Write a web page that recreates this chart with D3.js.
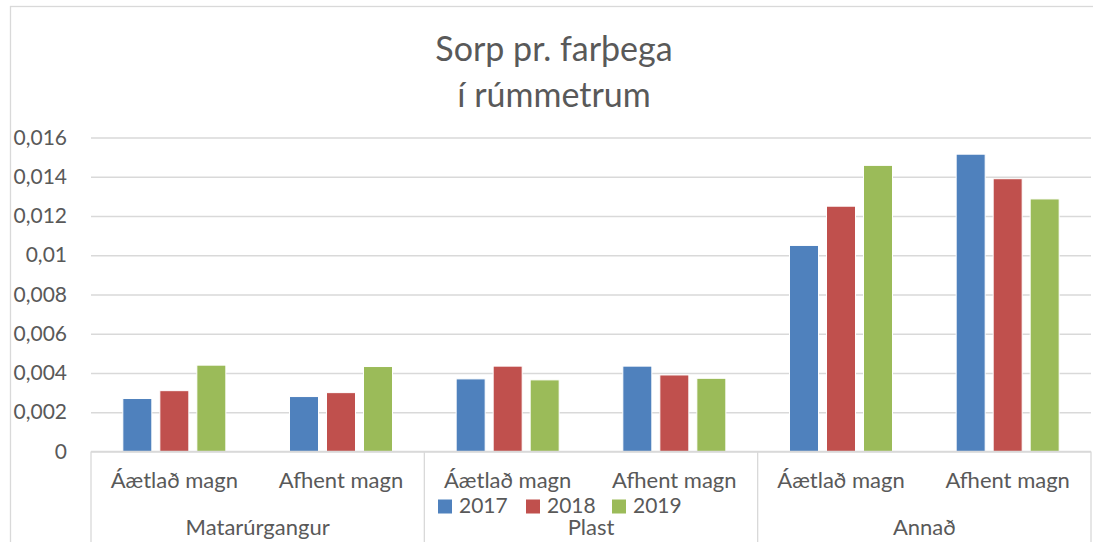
<!DOCTYPE html>
<html>
<head>
<meta charset="utf-8">
<script src="https://cdn.jsdelivr.net/npm/d3@7"></script>
<style>
  body { margin: 0; background: #fff; }
  svg { font-family: Lato, "Open Sans", sans-serif; }
</style>
</head>
<body>
<script>
var groups = ["Matarúrgangur", "Plast", "Annað"];
var subcats = ["Áætlað magn", "Afhent magn"];
var years = ["2017", "2018", "2019"];
// one value per (group, subcategory) in order
var v2017 = [0.0027, 0.0028, 0.0037, 0.00435, 0.0105, 0.01515];
var v2018 = [0.0031, 0.0030, 0.00435, 0.0039, 0.0125, 0.0139];
var v2019 = [0.0044, 0.00433, 0.00365, 0.00373, 0.01458, 0.01287];
var yTicks = [0, 0.002, 0.004, 0.006, 0.008, 0.01, 0.012, 0.014, 0.016];
var colors = ["#4f81bd", "#c0504d", "#9bbb59"];

var w = 1093, h = 542;
var plotL = 91, plotR = 1091, plotT = 137.5, plotB = 451.5;
var textCol = "#595959", lineCol = "#d9d9d9";

var keys = [];
groups.forEach(function(g){ subcats.forEach(function(s){ keys.push(g + "|" + s); }); });
var series = [v2017, v2018, v2019];
var rows = keys.map(function(k, i){
  return {key: k, vals: years.map(function(y, j){ return {year: y, v: series[j][i], c: colors[j]}; })};
});

var fmt = d3.formatLocale({decimal: ",", thousands: ".", grouping: [3], currency: ["", ""]}).format(".3~f");

var svg = d3.select("body").append("svg").attr("width", w).attr("height", h);

// chart border (right/bottom fall outside)
svg.append("rect").attr("x", 10.5).attr("y", 6.5).attr("width", 1100).attr("height", 560)
  .attr("fill", "none").attr("stroke", lineCol).attr("stroke-width", 1.3);

// title
var title = svg.append("text").attr("text-anchor", "middle").attr("fill", textCol)
  .attr("font-size", 34);
title.append("tspan").attr("x", 554).attr("y", 61).text("Sorp pr. farþega");
title.append("tspan").attr("x", 554).attr("y", 107).text("í rúmmetrum");

var y = d3.scaleLinear().domain([0, 0.016]).range([plotB, plotT]);
var x0 = d3.scaleBand().domain(keys).range([plotL, plotR]);
var xg = d3.scaleBand().domain(groups).range([plotL, plotR]);
var x1 = d3.scaleBand().domain(years).range([0, x0.bandwidth()]).paddingInner(0.216).paddingOuter(0.86);

// y axis with gridlines
var yAxis = svg.append("g").attr("transform", "translate(" + plotL + ",0)")
  .call(d3.axisLeft(y).tickValues(yTicks).tickSize(-(plotR - plotL)).tickPadding(24).tickFormat(fmt));
yAxis.select(".domain").remove();
yAxis.selectAll("line").attr("stroke", lineCol).attr("stroke-width", 1.3);
yAxis.selectAll("text").attr("fill", textCol).attr("font-size", 21).attr("font-family", "Lato");

// bars
var grp = svg.selectAll("g.cat").data(rows).enter().append("g").attr("class", "cat")
  .attr("transform", function(d){ return "translate(" + x0(d.key) + ",0)"; });
grp.selectAll("rect").data(function(d){ return d.vals; }).enter().append("rect")
  .attr("x", function(d){ return x1(d.year); })
  .attr("y", function(d){ return y(d.v); })
  .attr("width", x1.bandwidth())
  .attr("height", function(d){ return y(0) - y(d.v); })
  .attr("fill", function(d){ return d.c; })
  .attr("stroke", "#fff").attr("stroke-width", 1);

// category axis: baseline + group separators
svg.append("line").attr("x1", plotL).attr("x2", plotR).attr("y1", plotB).attr("y2", plotB)
  .attr("stroke", lineCol).attr("stroke-width", 1.3);
var seps = groups.map(function(g){ return xg(g); }).concat([plotR]);
svg.selectAll("line.sep").data(seps).enter().append("line").attr("class", "sep")
  .attr("x1", function(d){ return d; }).attr("x2", function(d){ return d; })
  .attr("y1", plotB).attr("y2", h)
  .attr("stroke", lineCol).attr("stroke-width", 1.3);

svg.selectAll("text.sub").data(keys).enter().append("text").attr("class", "sub")
  .attr("x", function(d){ return x0(d) + x0.bandwidth() / 2; })
  .attr("y", 488).attr("text-anchor", "middle").attr("fill", textCol).attr("font-size", 22)
  .text(function(d){ return d.split("|")[1]; });

svg.selectAll("text.grp").data(groups).enter().append("text").attr("class", "grp")
  .attr("x", function(d){ return xg(d) + xg.bandwidth() / 2; })
  .attr("y", 535).attr("text-anchor", "middle").attr("fill", textCol).attr("font-size", 22)
  .text(function(d){ return d; });

// legend
var legX = [438, 526, 612];
var leg = svg.selectAll("g.leg").data(years).enter().append("g").attr("class", "leg")
  .attr("transform", function(d, i){ return "translate(" + legX[i] + ",499.5)"; });
leg.append("rect").attr("width", 14).attr("height", 14)
  .attr("fill", function(d, i){ return colors[i]; });
leg.append("text").attr("x", 21).attr("y", 13.5).attr("fill", textCol).attr("font-size", 21)
  .text(function(d){ return d; });
</script>
</body>
</html>
